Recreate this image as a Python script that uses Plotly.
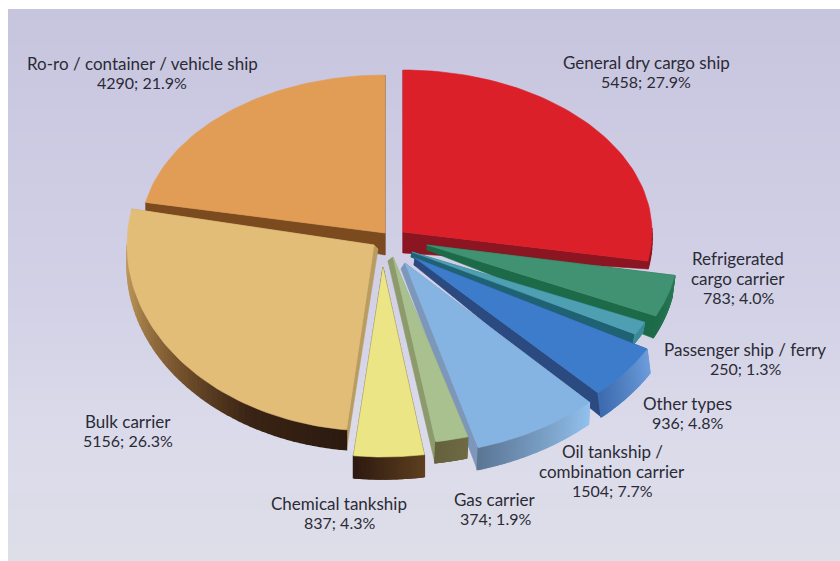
import numpy as np
import plotly.graph_objects as go

# Ship types in clockwise order, starting from twelve o'clock
categories = [
    "General dry cargo ship",
    "Refrigerated<br>cargo carrier",
    "Passenger ship / ferry",
    "Other types",
    "Oil tankship /<br>combination carrier",
    "Gas carrier",
    "Chemical tankship",
    "Bulk carrier",
    "Ro-ro / container / vehicle ship",
]
values = [5458, 783, 250, 936, 1504, 374, 837, 5156, 4290]
percents = ["27.9", "4.0", "1.3", "4.8", "7.7", "1.9", "4.3", "26.3", "21.9"]

# Projection of each exploded wedge: apex, ellipse radii, extrusion at apex and at rim
apex_x = [403, 427, 412, 415, 405, 393, 383, 374, 385]
apex_y = [232, 245, 252, 258, 263, 257, 267, 245, 233]
radius_x = [249, 252, 256, 266, 268, 274, 265, 247, 244]
radius_y = [162, 170, 168, 186, 192, 187, 190, 186, 158]
extrude_apex = [(0, 21), (0, 5), (-1, 5), (-1, 7), (-4, 6), (-5, 4), (0, 0), (4, 4), (0, 22)]
extrude_rim = [(0, 8), (-3, 22), (-2, 10), (3, 24), (-1, 22), (-1, 21), (0, 22), (0, 20), (0, 8)]

top_colors = ["#dc2029", "#419272", "#4f9fb3", "#3d7ccb", "#85b4e2",
              "#a9c18e", "#ebe585", "#e2bd78", "#e19c55"]
edge_colors = ["#8c1522", "#1d6a48", "#1e6273", "#2a4a80", "#7c97ba",
               "#8d9b6c", "#3a2414", "#b99c60", "#7b4a1f"]
# Rim wall shading, from the wedge's first angle to its last
rim_stops = [
    ["#8c1522", "#8c1522"],
    ["#2c7a58", "#1f6c4a"],
    ["#3f8c9c", "#3f8c9c"],
    ["#6d9ddb", "#3d6cb0"],
    ["#92c0ec", "#5c7796"],
    ["#6f6b45", "#66623f"],
    ["#5e4020", "#2e1a10"],
    ["#2c1a10", "#3a2414", "#7a5630", "#b08a50", "#c8a468"],
    ["#7b4a1f", "#7b4a1f"],
]
# Painted back to front
draw_order = [8, 0, 1, 2, 3, 4, 7, 5, 6]

label_x = [646, 738, 745, 687, 612, 495, 339, 128, 142]
label_y = [72, 278, 359, 413, 471, 509, 513, 431, 73]
LINE_STEP = 19.5

PANEL_LEFT, PANEL_TOP = 8, 9
band_y = [9, 120, 300, 420, 561]
band_rgb = [(199, 197, 222), (203, 202, 226), (210, 209, 230), (218, 218, 234), (222, 222, 233)]


def hex_rgb(color):
    return np.array([int(color[i:i + 2], 16) for i in (1, 3, 5)], dtype=float)


def blend(stops, t):
    pos = t * (len(stops) - 1)
    i = min(int(pos), len(stops) - 2)
    c = hex_rgb(stops[i]) * (1 - (pos - i)) + hex_rgb(stops[i + 1]) * (pos - i)
    return "rgb({:.0f},{:.0f},{:.0f})".format(*c)


def polygon(xs, ys, color, width=0.6):
    return go.Scatter(x=list(xs), y=list(ys), mode="lines", fill="toself", fillcolor=color,
                      line=dict(color=color, width=width), hoverinfo="skip", showlegend=False)


total = sum(values)
edges = np.concatenate([[0], np.cumsum(values)]) / total * 2 * np.pi

fig = go.Figure()

for k in draw_order:
    t = np.linspace(edges[k], edges[k + 1], 61)
    ax, ay = apex_x[k], apex_y[k]
    rim_x = ax + radius_x[k] * np.sin(t)
    rim_y = ay - radius_y[k] * np.cos(t)
    (adx, ady), (rdx, rdy) = extrude_apex[k], extrude_rim[k]

    # Radial walls
    for i in (0, -1):
        fig.add_trace(polygon(
            [ax, rim_x[i], rim_x[i] + rdx, ax + adx, ax],
            [ay, rim_y[i], rim_y[i] + rdy, ay + ady, ay],
            edge_colors[k],
        ))

    # Rim wall, shaded in short segments; the far side of the rim stays hidden
    for i in range(len(t) - 1):
        if np.cos(t[i]) > 0 and np.cos(t[i + 1]) > 0:
            continue
        fig.add_trace(polygon(
            [rim_x[i], rim_x[i + 1], rim_x[i + 1] + rdx, rim_x[i] + rdx, rim_x[i]],
            [rim_y[i], rim_y[i + 1], rim_y[i + 1] + rdy, rim_y[i] + rdy, rim_y[i]],
            blend(rim_stops[k], i / (len(t) - 2)),
            width=1.4,
        ))

    # Top face
    fig.add_trace(polygon(
        np.concatenate([[ax], rim_x, [ax]]),
        np.concatenate([[ay], rim_y, [ay]]),
        top_colors[k],
    ))

# Panel tint, running slightly lighter towards the bottom
strip_edges = np.arange(PANEL_TOP, 561 + 4, 4)
shapes = []
for y0, y1 in zip(strip_edges[:-1], strip_edges[1:]):
    rgb = [np.interp(y0, band_y, [c[j] for c in band_rgb]) for j in range(3)]
    shapes.append(dict(type="rect", xref="x", yref="y", layer="below",
                       x0=PANEL_LEFT, x1=840, y0=y0, y1=y1 + 1,
                       fillcolor="rgb({:.0f},{:.0f},{:.0f})".format(*rgb), line_width=0))

# Each label line is placed on its own so the leading stays tight
annotations = []
for name, value, pct, x, y in zip(categories, values, percents, label_x, label_y):
    lines = name.split("<br>") + [f"{value}; {pct}%"]
    first = y - LINE_STEP * (len(lines) - 1) / 2
    for n, line in enumerate(lines):
        is_value = n == len(lines) - 1
        annotations.append(dict(
            x=x, y=first + n * LINE_STEP, xref="x", yref="y", text=line, showarrow=False,
            xanchor="center", yanchor="middle",
            font=dict(family="Lato", size=16 if is_value else 17, color="#2b2b36"),
        ))

fig.update_layout(
    width=840, height=561, margin=dict(l=0, r=0, t=0, b=0),
    paper_bgcolor="white", plot_bgcolor="white", showlegend=False,
    xaxis=dict(range=[0, 840], visible=False, fixedrange=True),
    yaxis=dict(range=[561, 0], visible=False, fixedrange=True),
    shapes=shapes, annotations=annotations,
)

fig.write_html("out.html", config=dict(displayModeBar=False))
